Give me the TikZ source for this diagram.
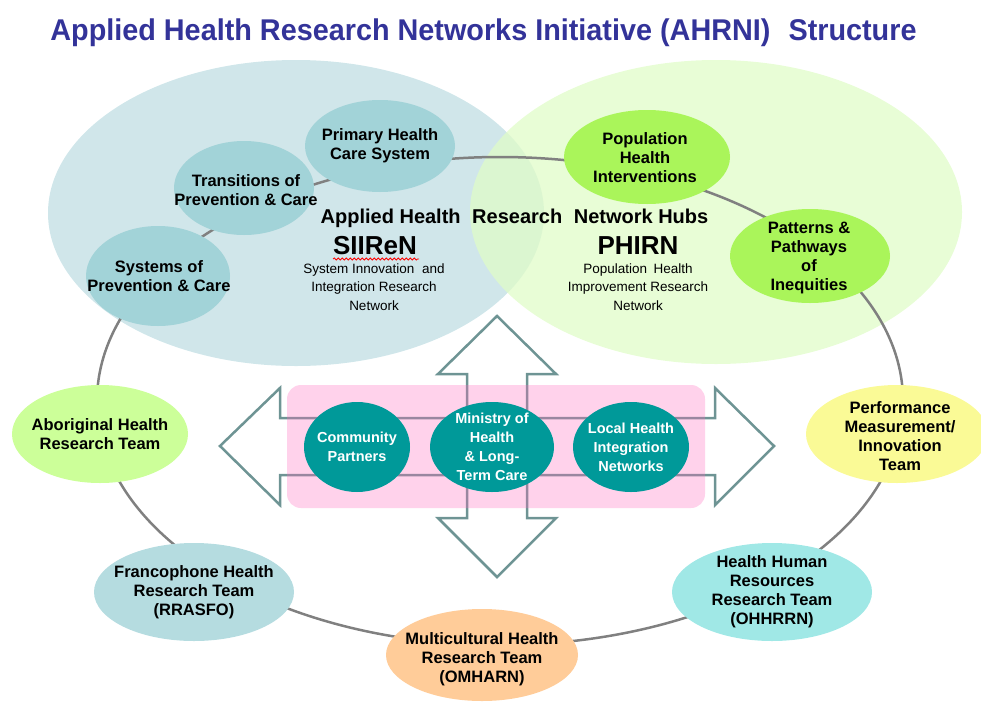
\documentclass[tikz,border=0pt]{standalone}
\usepackage{fontspec}
\usepackage{graphicx}
\setmainfont{Liberation Sans}
\usetikzlibrary{shapes.geometric,decorations.pathmorphing}
\definecolor{titleblue}{RGB}{51,51,153}
\definecolor{bigblue}{RGB}{208,230,234}
\definecolor{biggreen}{RGB}{224,252,200}
\definecolor{innerblue}{RGB}{162,211,216}
\definecolor{innergreen}{RGB}{170,245,90}
\definecolor{aborc}{RGB}{204,255,153}
\definecolor{perfc}{RGB}{250,250,150}
\definecolor{francoc}{RGB}{181,220,224}
\definecolor{multic}{RGB}{255,204,153}
\definecolor{hhrc}{RGB}{160,232,230}
\definecolor{tealc}{RGB}{0,153,153}
\definecolor{arrowc}{RGB}{110,148,148}
\definecolor{ringc}{RGB}{128,128,128}
\definecolor{pinkc}{RGB}{255,105,188}
\newcommand\mysatfont{\bfseries\fontsize{16.5}{19}\selectfont}
\newcommand\myteamfont{\bfseries\fontsize{14.5}{19}\selectfont}
\newcommand\mysmallfont{\fontsize{13.5}{18.5}\selectfont}
\begin{document}
\begin{tikzpicture}[x=1pt,y=-1pt,
  blob/.style={ellipse, inner sep=0pt, draw=none},
  txt/.style={align=center, inner sep=0pt, font=\mysatfont, text=black},
  teamtxt/.style={align=center, inner sep=0pt, font=\myteamfont, text=white},
  small/.style={align=center, inner sep=0pt, font=\mysmallfont, text=black},
  arrowline/.style={draw=arrowc, line width=2.5pt, line join=miter}
]
\useasboundingbox (0,0) rectangle (981,704);

% title
\node[anchor=base, inner sep=0pt, text=titleblue, font=\bfseries\fontsize{30}{34}\selectfont] (title) at (483.5,40)
  {\scalebox{0.96}[1]{Applied Health Research Networks Initiative (AHRNI)\hspace{0.35em} Structure}};

% big hub ellipses
\node[blob, fill=bigblue, minimum width=496pt, minimum height=306pt] (hubL) at (296,213) {};
\node[blob, fill=biggreen, fill opacity=0.75, minimum width=492pt, minimum height=304pt] (hubR) at (716,212) {};

% ring
\node[ellipse, draw=ringc, line width=2.5pt, inner sep=0pt, minimum width=806pt, minimum height=488pt] (ring) at (500,401) {};

% arrows
\draw[arrowline] (220,446) -- (280,388) -- (280,418) -- (715,418) -- (715,388) -- (774,446)
  -- (715,505) -- (715,475) -- (280,475) -- (280,505) -- cycle;
\draw[arrowline] (497,316) -- (556,374) -- (527,374) -- (527,518) -- (556,518) -- (497,577)
  -- (438,518) -- (467,518) -- (467,374) -- (438,374) -- cycle;

% pink box
\node[fill=pinkc, fill opacity=0.3, rounded corners=14pt, inner sep=0pt, minimum width=418pt, minimum height=123pt] (pink) at (496,446.5) {};

% central teal nodes
\node[blob, fill=tealc, minimum width=106pt, minimum height=90pt] (comm) at (357,447) {};
\node[blob, fill=tealc, minimum width=124pt, minimum height=90pt] (mini) at (492,447) {};
\node[blob, fill=tealc, minimum width=116pt, minimum height=90pt] (lhin) at (631,447) {};
\node[teamtxt] (commT) at (comm) {Community\\Partners};
\node[teamtxt] (miniT) at (mini) {Ministry of\\Health\\\& Long-\\Term Care};
\node[teamtxt] (lhinT) at (lhin) {Local Health\\Integration\\Networks};

% inner hub nodes
\node[blob, fill=innerblue, minimum width=144pt, minimum height=100pt] (sys) at (158,276) {};
\node[blob, fill=innerblue, minimum width=140pt, minimum height=94pt] (trans) at (244,188) {};
\node[blob, fill=innerblue, minimum width=150pt, minimum height=92pt] (prim) at (380,146) {};
\node[blob, fill=innergreen, minimum width=166pt, minimum height=94pt] (pop) at (647,157) {};
\node[blob, fill=innergreen, minimum width=160pt, minimum height=94pt] (pat) at (810,256) {};
\node[txt] (sysT) at (159,276) {Systems of\\Prevention \& Care};
\node[txt] (transT) at (246,190) {Transitions of\\Prevention \& Care};
\node[txt] (primT) at (380,146) {Primary Health\\Care System};
\node[txt] (popT) at (645,158) {Population\\Health\\Interventions};
\node[txt] (patT) at (809,258) {Patterns \&\\Pathways\\of\\Inequities};

% outer team nodes
\node[blob, fill=aborc, minimum width=176pt, minimum height=98pt] (abor) at (100,434) {};
\node[blob, fill=perfc, minimum width=182pt, minimum height=98pt] (perf) at (897,434) {};
\node[blob, fill=francoc, minimum width=200pt, minimum height=98pt] (franco) at (194,592) {};
\node[blob, fill=hhrc, minimum width=200pt, minimum height=98pt] (hhr) at (772,592) {};
\node[blob, fill=multic, minimum width=192pt, minimum height=92pt] (multi) at (482,655) {};
\node[txt] (aborT) at (100,434) {Aboriginal Health\\Research Team};
\node[txt] (perfT) at (900,436) {Performance\\Measurement/\\Innovation\\Team};
\node[txt] (francoT) at (194,592) {Francophone Health\\Research Team\\(RRASFO)};
\node[txt] (hhrT) at (772,592) {Health Human\\Resources\\Research Team\\(OHHRRN)};
\node[txt] (multiT) at (482,659) {Multicultural Health\\Research Team\\(OMHARN)};

% hub labels
\node[anchor=base, inner sep=0pt, font=\bfseries\fontsize{20}{22}\selectfont] (hubs) at (514.5,223)
  {Applied Health\hspace{0.3em} Research\hspace{0.3em} Network Hubs};
\node[anchor=base, inner sep=0pt, font=\bfseries\fontsize{26}{28}\selectfont] (siiren) at (375,254) {SIIReN};
\node[anchor=base, inner sep=0pt, font=\bfseries\fontsize{26}{28}\selectfont] (phirn) at (638,254) {PHIRN};
\node[small] (siirenT) at (374,287) {System Innovation\hspace{0.3em} and\\Integration Research\\Network};
\node[small] (phirnT) at (638,287) {Population\hspace{0.2em} Health\\Improvement Research\\Network};
\draw[red, line width=0.8pt, decorate, decoration={snake, amplitude=1pt, segment length=4pt}]
  (333,259) -- (419,259);
\end{tikzpicture}
\end{document}
